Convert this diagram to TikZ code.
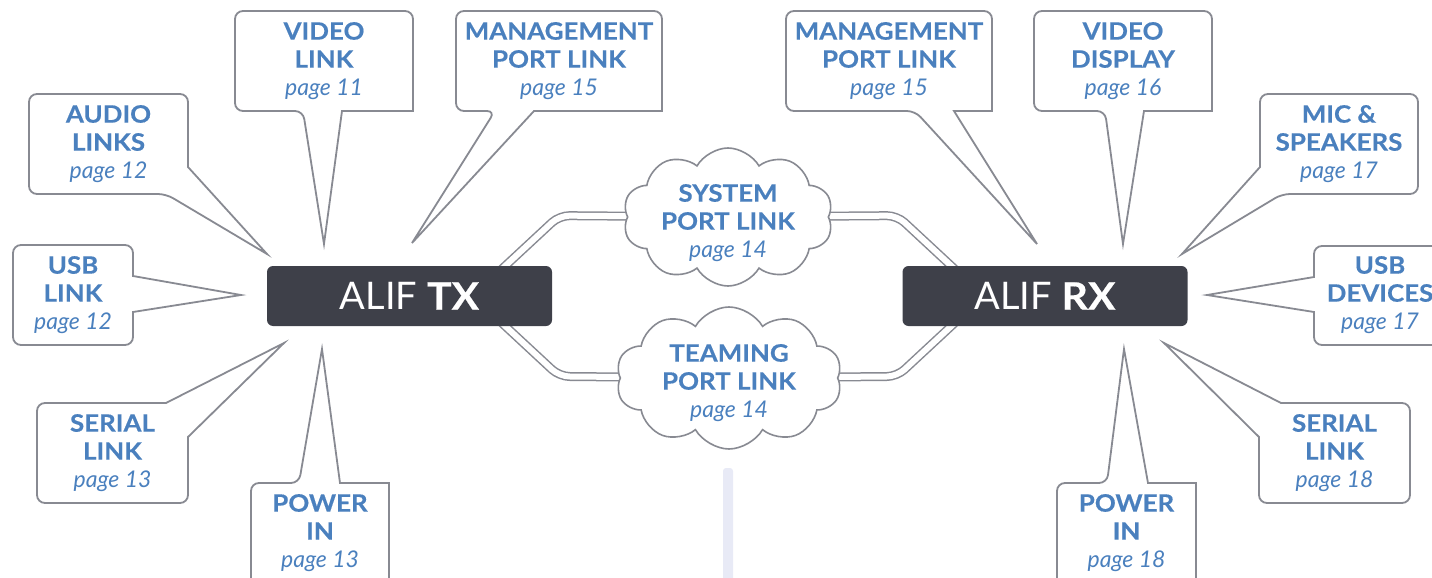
\documentclass[tikz,border=0pt]{standalone}
\usepackage{fontspec}
\setmainfont{Lato}[BoldFeatures={FakeStretch=1.08,FakeBold=0.4}]
\usetikzlibrary{calc,shapes.symbols}
\definecolor{linegray}{RGB}{136,138,146}
\definecolor{textblue}{RGB}{74,128,190}
\definecolor{hubgray}{RGB}{62,64,73}
\definecolor{barblue}{RGB}{232,234,246}
\pgfdeclarelayer{back}
\pgfsetlayers{back,main}
\newcommand{\onpage}[1]{{\mdseries\itshape\fontsize{11.5}{14}\selectfont page #1}}
\tikzset{
  callout/.style={draw=linegray,line width=0.9pt,fill=white},
  blurb/.style={text=textblue,align=center,font=\fontsize{12}{14}\selectfont\bfseries},
  hub/.style={fill=hubgray,rounded corners=3pt,minimum width=142.5pt,minimum height=30pt,text=white,font=\fontsize{19}{20}\selectfont},
  linkcloud/.style={cloud,cloud puffs=10,cloud puff arc=120,draw=linegray,line width=0.8pt,fill=white,inner sep=0pt},
  dbl/.style={draw=linegray,line width=0.75pt,double=white,double distance=3pt,rounded corners=5pt}
}

\begin{document}
\begin{tikzpicture}[x=0.5pt,y=-0.5pt]
\useasboundingbox (0,0) rectangle (1432,578);
\clip (0,0) rectangle (1432,578);

% the two units
\node[hub] (tx) at (409.5,296) {ALIF \textbf{TX}};
\node[hub] (rx) at (1045,296) {ALIF \textbf{RX}};

% links between them
\node[linkcloud,minimum width=105pt,minimum height=69pt,label={[blurb,yshift=-3pt]center:SYSTEM\\PORT LINK\\\onpage{14}}] (sys) at (728,217) {};
\node[linkcloud,minimum width=113pt,minimum height=71pt,label={[blurb,yshift=-2.5pt]center:TEAMING\\PORT LINK\\\onpage{14}}] (team) at (729,378) {};
\begin{pgfonlayer}{back}
\draw[dbl] ($(tx.north east)+(-63,15)$) -- ($(tx.north east)+(7,-50)$) -- (sys.center);
\draw[dbl] (sys.center) -- ($(rx.north west)+(-5,-50)$) -- ($(rx.north west)+(65,15)$);
\draw[dbl] ($(tx.south east)+(-63,-15)$) -- ($(tx.south east)+(7,50)$) -- (team.center);
\draw[dbl] (team.center) -- ($(rx.south west)+(-5,50)$) -- ($(rx.south west)+(65,-15)$);
\end{pgfonlayer}

% TX side
\draw[callout] (324,11) [rounded corners=4pt] -- (235,11) -- (235,111) -- (303,111) [sharp corners] -- (324,244) -- (342,111) -- (413,111) [rounded corners=4pt] -- (413,11) -- (324,11);
\node[blurb] (txvideo) at (324,61) {VIDEO\\LINK\\\onpage{11}};
\draw[callout] (559,11) [rounded corners=4pt] -- (456,11) -- (456,111) -- (495,111) [sharp corners] -- (412,243) -- (534,111) -- (662,111) [rounded corners=4pt] -- (662,11) -- (559,11);
\node[blurb] (txmgmt) at (559,61) {MANAGEMENT\\PORT LINK\\\onpage{15}};
\draw[callout] (108,94) [rounded corners=4pt] -- (29,94) -- (29,194) -- (166,194) [sharp corners] -- (267,254) -- (188,167) [rounded corners=4pt] -- (188,94) -- (108,94);
\node[blurb] (txaudio) at (108.5,144) {AUDIO\\LINKS\\\onpage{12}};
\draw[callout] (73,245) [rounded corners=4pt] -- (13,245) -- (13,345) -- (133,345) [sharp corners] -- (133,312) -- (241,295) -- (133,276) [rounded corners=4pt] -- (133,245) -- (73,245);
\node[blurb] (txusb) at (73,295) {USB\\LINK\\\onpage{12}};
\draw[callout] (37,453) [rounded corners=4pt] -- (37,503) -- (188,503) [sharp corners] -- (188,437) -- (284,343) -- (166,403) [rounded corners=4pt] -- (37,403) -- (37,453);
\node[blurb] (txserial) at (112.5,453) {SERIAL\\LINK\\\onpage{13}};
\draw[callout] (320,600) [rounded corners=4pt] -- (251,600) -- (251,483) -- (299,483) [sharp corners] -- (322,349) -- (340,483) -- (389,483) [rounded corners=4pt] -- (389,600) -- (320,600);
\node[blurb] (txpower) at (320,533) {POWER\\IN\\\onpage{13}};

% RX side
\draw[callout] (889,11) [rounded corners=4pt] -- (786,11) -- (786,111) -- (915,111) [sharp corners] -- (1037,244) -- (954,111) -- (992,111) [rounded corners=4pt] -- (992,11) -- (889,11);
\node[blurb] (rxmgmt) at (889,61) {MANAGEMENT\\PORT LINK\\\onpage{15}};
\draw[callout] (1123,11) [rounded corners=4pt] -- (1034,11) -- (1034,111) -- (1105,111) [sharp corners] -- (1123,244) -- (1144,111) -- (1212,111) [rounded corners=4pt] -- (1212,11) -- (1123,11);
\node[blurb] (rxvideo) at (1123,61) {VIDEO\\DISPLAY\\\onpage{16}};
\draw[callout] (1339,94) [rounded corners=4pt] -- (1418,94) -- (1418,194) -- (1282,194) [sharp corners] -- (1182,254) -- (1260,167) [rounded corners=4pt] -- (1260,94) -- (1339,94);
\node[blurb] (rxmic) at (1339,144) {MIC \&\\SPEAKERS\\\onpage{17}};
\draw[callout] (1380,246) [rounded corners=4pt] -- (1446,246) -- (1446,345) -- (1314,345) [sharp corners] -- (1314,312) -- (1207,295) -- (1314,277) [rounded corners=4pt] -- (1314,246) -- (1380,246);
\node[blurb] (rxusb) at (1380,295) {USB\\DEVICES\\\onpage{17}};
\draw[callout] (1410,453) [rounded corners=4pt] -- (1410,503) -- (1259,503) [sharp corners] -- (1259,437) -- (1164,343) -- (1281,403) [rounded corners=4pt] -- (1410,403) -- (1410,453);
\node[blurb] (rxserial) at (1334.5,453) {SERIAL\\LINK\\\onpage{18}};
\draw[callout] (1126,600) [rounded corners=4pt] -- (1057,600) -- (1057,483) -- (1107,483) [sharp corners] -- (1124,349) -- (1148,483) -- (1196,483) [rounded corners=4pt] -- (1196,600) -- (1126,600);
\node[blurb] (rxpower) at (1126.5,533) {POWER\\IN\\\onpage{18}};

% scroll bar
\fill[barblue,rounded corners=1.5pt] (723,468) rectangle (733,590);
\end{tikzpicture}
\end{document}
